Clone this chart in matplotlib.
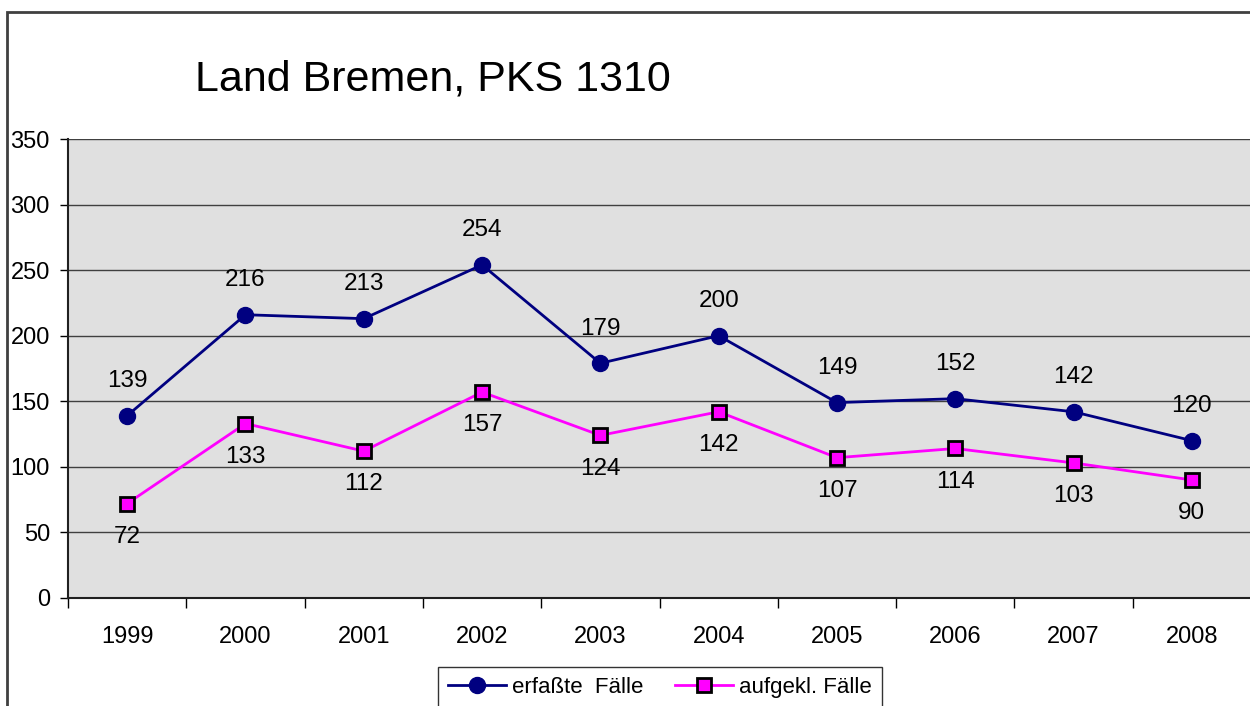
import matplotlib
matplotlib.use("Agg")
import matplotlib.pyplot as plt
from matplotlib.patches import Rectangle

plt.rcParams['font.family'] = ['Liberation Sans', 'DejaVu Sans']

years = ['1999', '2000', '2001', '2002', '2003', '2004', '2005', '2006', '2007', '2008']
erfasste = [139, 216, 213, 254, 179, 200, 149, 152, 142, 120]
aufgeklaert = [72, 133, 112, 157, 124, 142, 107, 114, 103, 90]

W, H = 1250, 706
fig = plt.figure(figsize=(W / 100, H / 100), dpi=100)

# outer chart border (cut off on the right and bottom like the original)
fig.patches.append(Rectangle((7 / W, -0.1), 1.2, 1 - 12 / H + 0.1, transform=fig.transFigure,
                             fill=False, edgecolor='#404040', linewidth=2))

ax = fig.add_axes([68 / W, 1 - 598 / H, (1251 - 68) / W, (598 - 139) / H])
ax.set_facecolor('#E0E0E0')

x = list(range(len(years)))
ax.plot(x, erfasste, color='#000080', linewidth=2, marker='o', markersize=11.5,
        markerfacecolor='#000080', markeredgecolor='#000080', label='erfaßte  Fälle', zorder=4)
ax.plot(x, aufgeklaert, color='#FF00FF', linewidth=2, marker='s', markersize=10,
        markerfacecolor='#FF00FF', markeredgecolor='black', markeredgewidth=2,
        label='aufgekl. Fälle', zorder=4)

for i, v in enumerate(erfasste):
    ax.annotate(str(v), (i, v), xytext=(0, 25), textcoords='offset points',
                ha='center', va='center', fontsize=17.5)
for i, v in enumerate(aufgeklaert):
    ax.annotate(str(v), (i, v), xytext=(0, -24), textcoords='offset points',
                ha='center', va='center', fontsize=17.5)

ax.set_xlim(-0.5, len(years) - 0.5)
ax.set_ylim(0, 350)
ax.set_yticks(range(0, 351, 50))
ax.tick_params(axis='y', labelsize=17, length=6, width=1, pad=7, direction='out')
ax.yaxis.grid(True, color='#404040', linewidth=1)
ax.set_axisbelow(True)

ax.set_xticks(x)
ax.set_xticklabels(years, fontsize=17)
ax.set_xticks([i - 0.5 for i in range(len(years) + 1)], minor=True)
ax.tick_params(axis='x', which='major', length=0, pad=20)
ax.tick_params(axis='x', which='minor', length=7, width=1, direction='out')

for s in ['top', 'right']:
    ax.spines[s].set_visible(False)
ax.spines['left'].set_color('#202020')
ax.spines['bottom'].set_color('#202020')
ax.spines['left'].set_linewidth(1.5)
ax.spines['bottom'].set_linewidth(1.5)

fig.text(195 / W, 1 - 79 / H, 'Land Bremen, PKS 1310', fontsize=31, ha='left', va='center')

leg = fig.legend(loc='upper center', bbox_to_anchor=(660 / W, 1 - 667 / H), ncol=2,
                 fontsize=16, frameon=True, fancybox=False, edgecolor='black',
                 handlelength=2.6, columnspacing=1.4, borderpad=0.45, handletextpad=0.3,
                 borderaxespad=0)
leg.get_frame().set_linewidth(1)

fig.savefig('out.png', dpi=100, facecolor='white')
